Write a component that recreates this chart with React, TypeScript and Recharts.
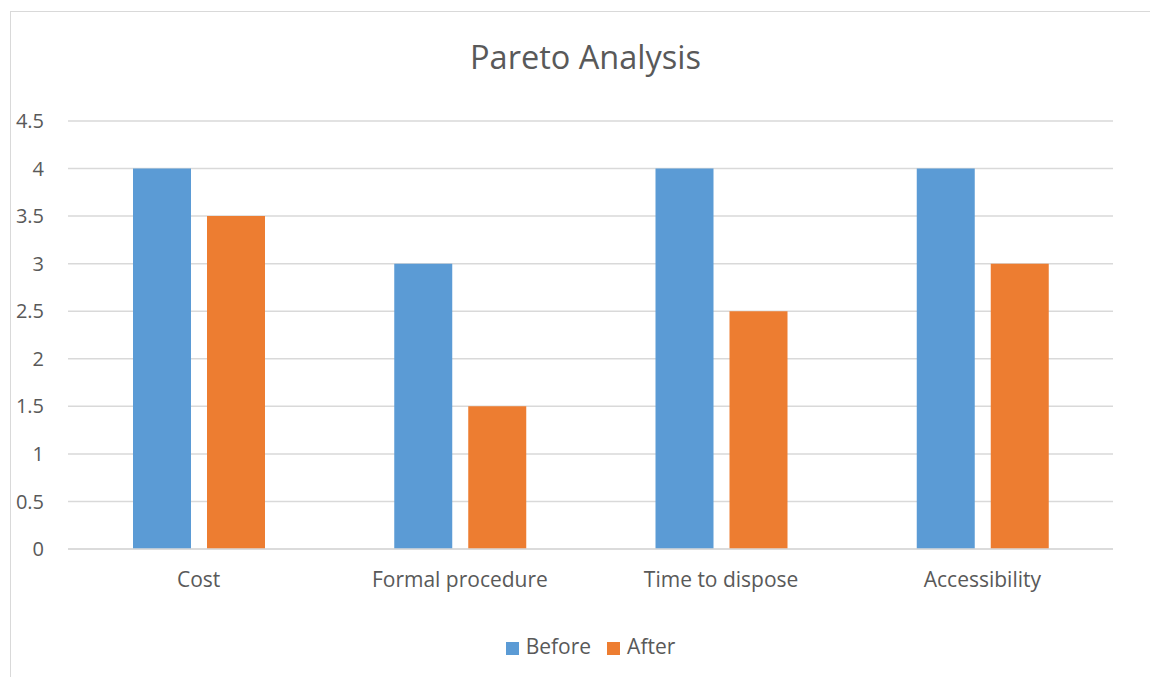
import { BarChart, Bar, XAxis, YAxis, CartesianGrid, Legend } from 'recharts';

const categories = ['Cost', 'Formal procedure', 'Time to dispose', 'Accessibility'];
const before = [4, 3, 4, 4];
const after = [3.5, 1.5, 2.5, 3];
const yTicks = [0, 0.5, 1, 1.5, 2, 2.5, 3, 3.5, 4, 4.5];
const seriesOrder = ['Before', 'After'];

const data = categories.map((name, i) => ({ name, Before: before[i], After: after[i] }));

const FONT = '"Open Sans", Lato, sans-serif';
const GREY = '#595959';

const App = () => {
  return (
    <div style={{ position: 'absolute', left: 0, top: 0, width: 1150, height: 677, overflow: 'hidden', background: '#fff', fontFamily: FONT }}>
      <div style={{ position: 'absolute', left: 10, top: 11, width: 1300, height: 800, border: '1px solid #d9d9d9' }} />
      <div style={{ position: 'absolute', left: 0, top: 36, width: 1171, lineHeight: '42px', textAlign: 'center', fontSize: 32.5, color: GREY }}>
        Pareto Analysis
      </div>
      <div style={{ position: 'absolute', left: 0, top: 0 }}>
        <BarChart
          width={1150}
          height={677}
          data={data}
          margin={{ top: 121, right: 37, left: 0, bottom: 17 }}
          barSize={58}
          barGap={16}
        >
          <CartesianGrid vertical={false} stroke="#d9d9d9" strokeWidth={1.5} />
          <XAxis
            dataKey="name"
            height={83}
            tickLine={false}
            tickSize={0}
            tickMargin={23}
            axisLine={{ stroke: '#d9d9d9', strokeWidth: 1.5 }}
            tick={{ fill: GREY, fontSize: 21, fontFamily: FONT }}
          />
          <YAxis
            width={68}
            domain={[0, 4.5]}
            ticks={yTicks}
            interval={0}
            axisLine={false}
            tickLine={false}
            tickSize={0}
            tickMargin={24}
            tick={{ fill: GREY, fontSize: 20, fontFamily: FONT }}
          />
          <Legend
            verticalAlign="bottom"
            iconType="square"
            iconSize={13}
            itemSorter={(item) => seriesOrder.indexOf(String(item.value))}
            wrapperStyle={{ fontSize: 21, fontFamily: FONT, color: GREY, left: 76, width: 1045 }}
            formatter={(value) => <span style={{ color: GREY, marginLeft: 3, marginRight: 6 }}>{value}</span>}
          />
          <Bar dataKey="Before" fill="#5B9BD5" isAnimationActive={false} />
          <Bar dataKey="After" fill="#ED7D31" isAnimationActive={false} />
        </BarChart>
      </div>
    </div>
  );
};

export default App;
